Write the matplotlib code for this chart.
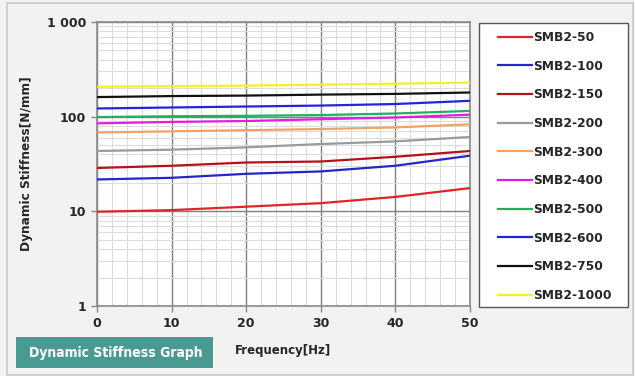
import matplotlib
matplotlib.use('Agg')
import matplotlib.pyplot as plt
from matplotlib.ticker import MultipleLocator, FixedLocator, LogLocator, NullFormatter
from matplotlib.patches import Rectangle

# data
freq = [0, 10, 20, 30, 40, 50]

names = ['SMB2-50', 'SMB2-100', 'SMB2-150', 'SMB2-200', 'SMB2-300',
         'SMB2-400', 'SMB2-500', 'SMB2-600', 'SMB2-750', 'SMB2-1000']

smb50 = [9.9, 10.3, 11.2, 12.2, 14.2, 17.6]
smb100 = [21.7, 22.6, 24.9, 26.4, 30.3, 38.7]
smb150 = [28.7, 30.3, 32.8, 33.6, 37.7, 43.4]
smb200 = [43.4, 44.8, 47.4, 51.4, 54.8, 61.0]
smb300 = [68, 70, 72, 74, 77, 83]
smb400 = [85, 88, 90, 94, 98, 105]
smb500 = [99, 101, 102, 104, 108, 115]
smb600 = [122, 125, 128, 131, 136, 147]
smb750 = [161, 165, 167, 171, 174, 180]
smb1000 = [207, 210, 213, 218, 223, 229]

series = [smb50, smb100, smb150, smb200, smb300,
          smb400, smb500, smb600, smb750, smb1000]

colors = ['#e0242a', '#2626c8', '#b81018', '#9a9a9a', '#f2a266',
          '#e01ee0', '#22b060', '#2222e0', '#111111', '#f4f028']

W, H = 635, 376
fig = plt.figure(figsize=(W/100, H/100), dpi=100)
fig.patch.set_facecolor('#f2f2f2')

# outer panel border
fig.patches.append(Rectangle((7/W, 1-375/H), 626/W, 372/H, transform=fig.transFigure,
                             fill=False, edgecolor='#c8c8c8', linewidth=1.2))

ax = fig.add_axes([97/W, 1-306/H, (470-97)/W, (306-22)/H])
ax.set_facecolor('white')

for y, c, n in zip(series, colors, names):
    ax.plot(freq, y, color=c, linewidth=1.6, label=n, zorder=3)

ax.set_yscale('log')
ax.set_xlim(0, 50)
ax.set_ylim(1, 1000)

ax.xaxis.set_major_locator(MultipleLocator(10))
ax.xaxis.set_minor_locator(MultipleLocator(2))
ax.yaxis.set_major_locator(FixedLocator([1, 10, 100, 1000]))
ax.yaxis.set_minor_locator(LogLocator(base=10, subs=range(2, 10)))
ax.yaxis.set_minor_formatter(NullFormatter())
ax.set_yticklabels(['1', '10', '100', '1 000'])

ax.grid(which='major', color='#7f7f7f', linewidth=1.0, zorder=1)
ax.grid(which='minor', color='#dcdcdc', linewidth=0.8, zorder=0)
ax.set_axisbelow(True)

for s in ax.spines.values():
    s.set_color('#8a8a8a')
    s.set_linewidth(1.2)

ax.tick_params(which='major', length=4, width=1.0, color='#8a8a8a', pad=4)
ax.tick_params(which='minor', length=0)
for lab in ax.get_xticklabels() + ax.get_yticklabels():
    lab.set_fontsize(9)
    lab.set_fontweight('bold')
    lab.set_color('#262626')

ax.set_xlabel('Frequency[Hz]', fontsize=8.5, fontweight='bold', color='#262626', labelpad=10)
ax.set_ylabel('Dynamic Stiffness[N/mm]', fontsize=8.7, fontweight='bold', color='#262626', labelpad=10)

# legend frame: x 479..628, y 23..307 (pixels)
fig.patches.append(Rectangle((479/W, 1-307/H), 149/W, 284/H, transform=fig.transFigure,
                             facecolor='white', edgecolor='#555555', linewidth=1.0))
leg = fig.legend(loc='upper left', bbox_to_anchor=(498/W, 1-31/H),
                 frameon=False, prop={'size': 8.8, 'weight': 'bold'},
                 handlelength=2.75, handletextpad=0.15, labelspacing=1.28,
                 borderpad=0, borderaxespad=0)
for t in leg.get_texts():
    t.set_color('#262626')

# caption box
fig.patches.append(Rectangle((16/W, 1-368/H), 197/W, 31/H, transform=fig.transFigure,
                             facecolor='#4a9a94', edgecolor='none'))
fig.text(116/W, 1-352.5/H, 'Dynamic Stiffness Graph', color='white', fontsize=10,
         fontweight='bold', fontstretch='condensed', ha='center', va='center')

fig.savefig('out.png', dpi=100, facecolor=fig.get_facecolor())
